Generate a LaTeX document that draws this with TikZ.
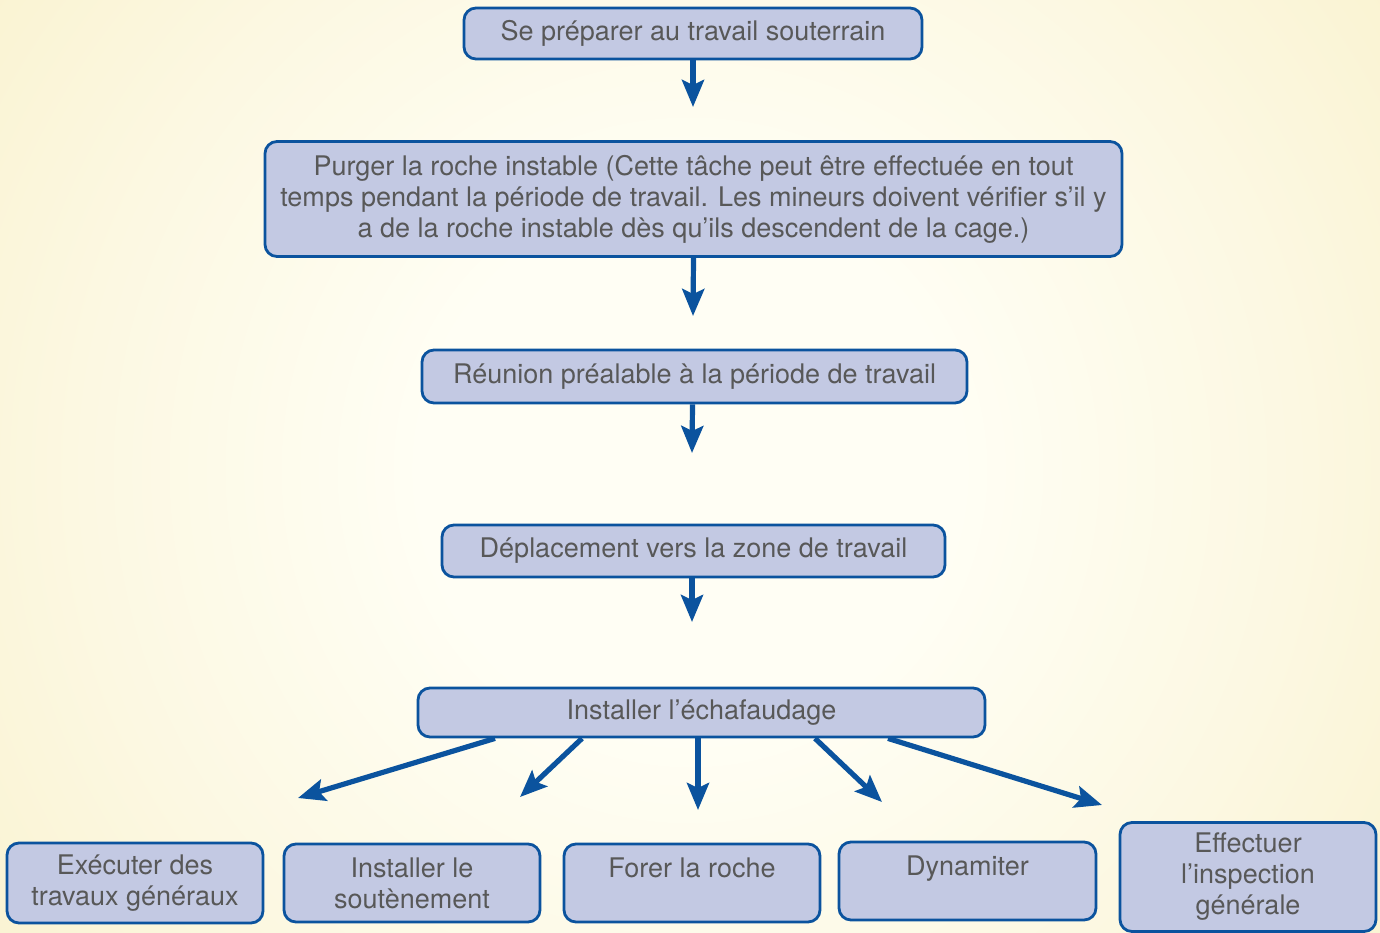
\documentclass[tikz,border=0pt]{standalone}
\usepackage{fontspec}
\setmainfont{TeX Gyre Heros}
\usetikzlibrary{arrows.meta}

\definecolor{boxfill}{HTML}{C3C9E3}
\definecolor{boxline}{HTML}{0B539E}
\definecolor{labelgray}{HTML}{585858}
\definecolor{glowA}{HTML}{FFFEF4}
\definecolor{glowB}{HTML}{FCF8E2}
\definecolor{glowC}{HTML}{F8F0C8}
\definecolor{glowD}{HTML}{F4E9AE}
\definecolor{glowE}{HTML}{F2E4A0}

\pgfdeclareradialshading{bgglow}{\pgfpoint{0bp}{0bp}}{%
  color(0bp)=(glowA); color(8bp)=(glowA); color(18bp)=(glowB);
  color(30bp)=(glowC); color(42bp)=(glowD); color(50bp)=(glowE)}

\tikzset{
  stepbox/.style={draw=boxline, fill=boxfill, line width=1.4pt,
    rounded corners=6pt, align=center, text=labelgray, inner sep=0pt,
    font=\fontsize{13.5}{15.5}\selectfont},
  flow/.style={draw=boxline, line width=2.6pt,
    -{Stealth[length=13.5pt, width=11pt, inset=2.5pt]}}
}

\begin{document}
\begin{tikzpicture}[x=0.5pt, y=-0.5pt]
  % background glow
  \useasboundingbox (0,0) rectangle (1380,932);
  \fill[glowE] (0,0) rectangle (1380,932);
  \begin{scope}
    \clip (0,0) rectangle (1380,932);
    \shade[shading=bgglow] (690,470) circle (840);
  \end{scope}

  % main chain
  \node[stepbox, minimum width=229pt, minimum height=25.5pt] (b1) at (693,33.5)
    {Se préparer au travail souterrain};
  \node[stepbox, minimum width=428.5pt, minimum height=57.5pt] (b2) at (693.5,199)
    {Purger la roche instable (Cette tâche peut être effectuée en tout\\
     temps pendant la période de travail. Les mineurs doivent vérifier s’il y\\
     a de la roche instable dès qu’ils descendent de la cage.)};
  \node[stepbox, minimum width=272.5pt, minimum height=26.5pt] (b3) at (694.5,376.5)
    {Réunion préalable à la période de travail};
  \node[stepbox, minimum width=251.5pt, minimum height=26pt] (b4) at (693.5,551)
    {Déplacement vers la zone de travail};
  \node[stepbox, minimum width=283.5pt, minimum height=24.5pt] (b5) at (701.5,712.5)
    {Installer l’échafaudage};

  % tasks
  \node[stepbox, minimum width=128pt, minimum height=40pt] (t1) at (135,883)
    {Exécuter des\\travaux généraux};
  \node[stepbox, minimum width=128pt, minimum height=39pt] (t2) at (412,883)
    {Installer le\\soutènement};
  \node[stepbox, minimum width=128pt, minimum height=39pt] (t3) at (692,883)
    {Forer la roche\\\mbox{}};
  \node[stepbox, minimum width=128.5pt, minimum height=39pt] (t4) at (967.5,881)
    {Dynamiter\\\mbox{}};
  \node[stepbox, minimum width=128pt, minimum height=54.5pt] (t5) at (1248,877)
    {Effectuer\\l’inspection\\générale};

  % arrow ends
  \coordinate (a1) at (693,107);
  \coordinate (a2) at (693,316);
  \coordinate (a3) at (692,453);
  \coordinate (a4) at (692,622);
  \coordinate (e1) at (298,798);
  \coordinate (e2) at (520,797);
  \coordinate (e3) at (698,810);
  \coordinate (e4) at (882,802);
  \coordinate (e5) at (1102,805);

  \draw[flow] (b1.south) -- (a1);
  \draw[flow] (b2.south) -- (a2);
  \draw[flow] ([xshift=-1pt]b3.south) -- (a3);
  \draw[flow] ([xshift=-0.75pt]b4.south) -- (a4);

  \draw[flow] ([xshift=-103.25pt]b5.south) -- (e1);
  \draw[flow] ([xshift=-59.75pt]b5.south) -- (e2);
  \draw[flow] ([xshift=-1.75pt]b5.south) -- (e3);
  \draw[flow] ([xshift=56.75pt]b5.south) -- (e4);
  \draw[flow] ([xshift=93.25pt]b5.south) -- (e5);
\end{tikzpicture}
\end{document}
